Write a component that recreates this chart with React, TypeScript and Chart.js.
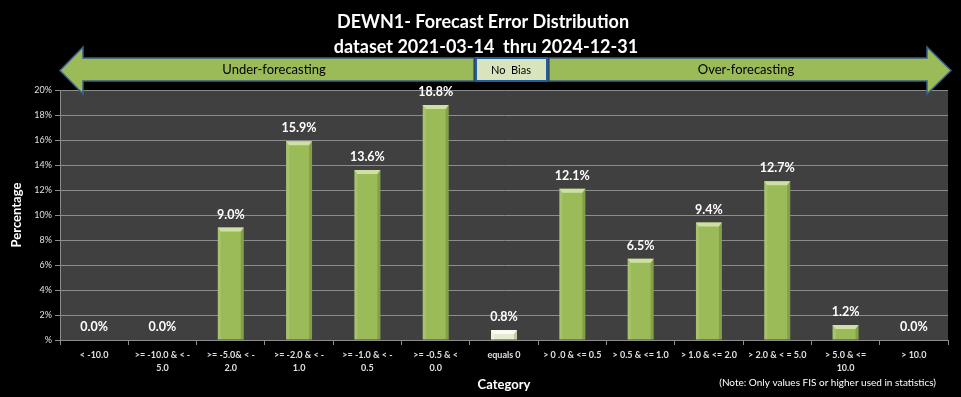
import React, { useEffect, useRef } from "react";
import { Chart, registerables } from "chart.js";

Chart.register(...registerables);

const categories: (string | string[])[] = [
  "< -10.0",
  [">= -10.0 & < -", "5.0"],
  [">= -5.0& < -", "2.0"],
  [">= -2.0 & < -", "1.0"],
  [">= -1.0 & < -", "0.5"],
  [">= -0.5 & <", "0.0"],
  "equals 0",
  "> 0 .0 & <= 0.5",
  "> 0.5 & <= 1.0",
  "> 1.0 & <= 2.0",
  "> 2.0 & < = 5.0",
  ["> 5.0 & <=", "10.0"],
  "> 10.0",
];

const percentages: number[] = [0.0, 0.0, 9.0, 15.9, 13.6, 18.8, 0.8, 12.1, 6.5, 9.4, 12.7, 1.2, 0.0];

const titleLines: string[] = ["DEWN1- Forecast Error Distribution", "dataset 2021-03-14  thru 2024-12-31"];
const yTitle = "Percentage";
const xTitle = "Category";
const noteText = "(Note: Only values FIS or higher used in statistics)";
const arrowLeftText = "Under-forecasting";
const arrowRightText = "Over-forecasting";
const noBiasText = "No  Bias";
const FONT = "Lato, 'Open Sans', sans-serif";

const GREEN = "#9BBB59";
const PALE = "#E4ECD0";
const barColors = categories.map((c) => (c === "equals 0" ? PALE : GREEN));

const decor = {
  id: "decor",
  beforeDraw(chart: any) {
    const { ctx, chartArea: a } = chart;
    ctx.save();
    ctx.fillStyle = "#000";
    ctx.fillRect(0, 0, chart.width, chart.height);
    ctx.fillStyle = "#404040";
    ctx.fillRect(a.left, a.top, a.right - a.left, a.bottom - a.top);
    ctx.restore();
  },
  afterDatasetsDraw(chart: any) {
    const { ctx } = chart;
    const meta = chart.getDatasetMeta(0);
    ctx.save();
    meta.data.forEach((bar: any, i: number) => {
      const { x, y, base, width } = bar.getProps(["x", "y", "base", "width"], true);
      const l = x - width / 2;
      const r = x + width / 2;
      const h = base - y;
      const pale = barColors[i] === PALE;
      if (h > 0.5) {
        const bev = Math.min(4, h / 2);
        ctx.fillStyle = pale ? "rgba(255,255,255,0.35)" : "rgba(255,255,255,0.12)";
        ctx.fillRect(l, y, 3, h);
        ctx.fillStyle = pale ? "rgba(120,140,80,0.35)" : "rgba(60,80,20,0.25)";
        ctx.fillRect(r - 3, y, 3, h);
        ctx.fillStyle = pale ? "#FAFCF4" : "#CFE0A4";
        ctx.beginPath();
        ctx.moveTo(l, y);
        ctx.lineTo(r, y);
        ctx.lineTo(r - 3, y + bev);
        ctx.lineTo(l + 3, y + bev);
        ctx.closePath();
        ctx.fill();
      }
      ctx.fillStyle = "#FFFFFF";
      ctx.font = `bold 12.5px ${FONT}`;
      ctx.textAlign = "center";
      ctx.textBaseline = "middle";
      ctx.fillText(percentages[i].toFixed(1) + "%", x, y - 13);
    });
    ctx.restore();
  },
  afterDraw(chart: any) {
    const { ctx, chartArea: a } = chart;
    ctx.save();
    ctx.fillStyle = "#FFFFFF";
    ctx.font = `bold 18px ${FONT}`;
    ctx.textAlign = "center";
    ctx.textBaseline = "middle";
    ctx.fillText(titleLines[0], 483, 22);
    ctx.fillText(titleLines[1], 486, 47);

    const sTop = 58, sBot = 81, hTop = 47, hBot = 94, midY = 70.5;
    ctx.lineWidth = 1.5;
    ctx.strokeStyle = "#3A5F8C";
    ctx.fillStyle = GREEN;
    ctx.beginPath();
    ctx.moveTo(60, midY);
    ctx.lineTo(83, hTop);
    ctx.lineTo(83, sTop);
    ctx.lineTo(474, sTop);
    ctx.lineTo(474, sBot);
    ctx.lineTo(83, sBot);
    ctx.lineTo(83, hBot);
    ctx.closePath();
    ctx.fill();
    ctx.stroke();
    ctx.beginPath();
    ctx.moveTo(951, midY);
    ctx.lineTo(927, hTop);
    ctx.lineTo(927, sTop);
    ctx.lineTo(549, sTop);
    ctx.lineTo(549, sBot);
    ctx.lineTo(927, sBot);
    ctx.lineTo(927, hBot);
    ctx.closePath();
    ctx.fill();
    ctx.stroke();
    ctx.fillStyle = "#D7E4BD";
    ctx.fillRect(476, sTop, 71, sBot - sTop);
    ctx.lineWidth = 2;
    ctx.strokeStyle = "#1F5FA0";
    ctx.strokeRect(476, sTop, 71, sBot - sTop);

    ctx.fillStyle = "#000000";
    ctx.font = `13px ${FONT}`;
    ctx.fillText(arrowLeftText, 274, 70);
    ctx.fillText(arrowRightText, 746, 70);
    ctx.font = `11px ${FONT}`;
    ctx.fillText(noBiasText, 511, 70);

    ctx.fillStyle = "#FFFFFF";
    ctx.font = `bold 13px ${FONT}`;
    ctx.fillText(xTitle, (a.left + a.right) / 2, 385);
    ctx.save();
    ctx.translate(17, (a.top + a.bottom) / 2);
    ctx.rotate(-Math.PI / 2);
    ctx.fillText(yTitle, 0, 0);
    ctx.restore();

    ctx.font = `10px ${FONT}`;
    ctx.textAlign = "right";
    ctx.fillStyle = "#FFFFFF";
    ctx.fillText(noteText, 936, 383);
    ctx.restore();
  },
};

export default function App() {
  const ref = useRef<HTMLCanvasElement>(null);
  useEffect(() => {
    if (!ref.current) return;
    const chart = new Chart(ref.current, {
      type: "bar",
      data: {
        labels: categories,
        datasets: [
          {
            data: percentages.map((v) => v / 100),
            backgroundColor: barColors,
            borderWidth: 0,
            categoryPercentage: 1,
            barPercentage: 0.38,
          },
        ],
      },
      plugins: [decor],
      options: {
        responsive: false,
        animation: false,
        devicePixelRatio: 1,
        layout: { padding: { top: 90, right: 13, bottom: 0, left: 0 } },
        plugins: { legend: { display: false }, tooltip: { enabled: false }, title: { display: false } },
        scales: {
          x: {
            grid: { drawOnChartArea: false, drawTicks: true, tickLength: 5, color: "#8C8C8C", offset: true },
            border: { color: "#8C8C8C", width: 1 },
            ticks: {
              color: "#E0E0E0",
              font: { family: FONT, size: 9, weight: "bold", lineHeight: 1.45 },
              maxRotation: 0,
              autoSkip: false,
              padding: 4,
            },
            afterFit: (s: any) => {
              s.height = 57;
            },
          },
          y: {
            min: 0,
            max: 0.2,
            grid: { color: "#8C8C8C", tickLength: 5, drawTicks: true },
            border: { color: "#8C8C8C", width: 1 },
            ticks: {
              stepSize: 0.02,
              color: "#E0E0E0",
              font: { family: FONT, size: 9 },
              padding: 3,
              callback: (v: any) => {
                const p = Math.round(Number(v) * 100);
                return p === 0 ? "%" : p + "%";
              },
            },
            afterFit: (s: any) => {
              s.width = 60;
            },
          },
        },
      } as any,
    });
    return () => chart.destroy();
  }, []);
  return (
    <div style={{ position: "absolute", left: 0, top: 0, width: 961, height: 397, background: "#000" }}>
      <canvas ref={ref} width={961} height={397} style={{ width: 961, height: 397, display: "block" }} />
    </div>
  );
}
